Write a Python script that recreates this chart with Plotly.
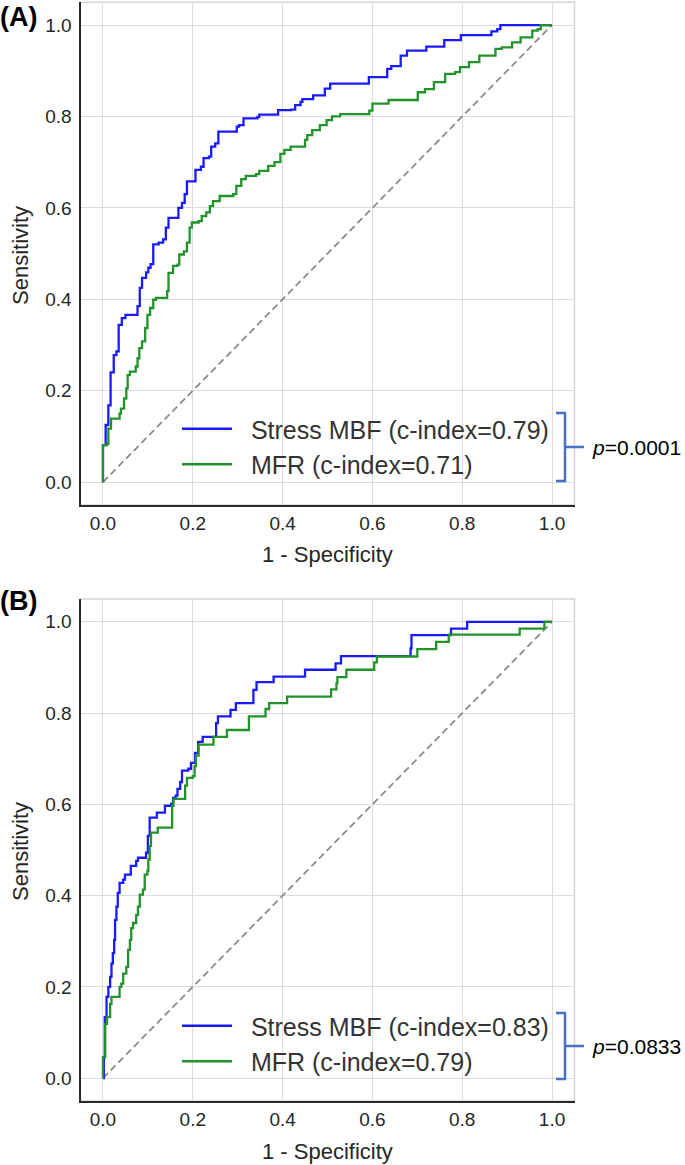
import plotly.graph_objects as go

# ---------------- data ----------------
tick_vals = [0.0, 0.2, 0.4, 0.6, 0.8, 1.0]
tick_text = ["0.0", "0.2", "0.4", "0.6", "0.8", "1.0"]

a_stress_fpr = [0, 0, 0.006, 0.012, 0.017, 0.024, 0.03, 0.035, 0.042, 0.05, 0.077, 0.082, 0.087, 0.096, 0.101,
                0.106, 0.112, 0.124, 0.134, 0.14, 0.146, 0.168, 0.176, 0.182, 0.187, 0.206, 0.218, 0.224, 0.236, 0.241,
                0.25, 0.257, 0.298, 0.303, 0.313, 0.344, 0.348, 0.39, 0.419, 0.428, 0.44, 0.444, 0.468, 0.494, 0.506,
                0.592, 0.633, 0.642, 0.663, 0.677, 0.72, 0.76, 0.797, 0.865, 0.878, 0.885, 1.0]
a_stress_tpr = [0, 0.081, 0.125, 0.168, 0.24, 0.278, 0.286, 0.344, 0.359, 0.366, 0.385, 0.425, 0.447, 0.459, 0.469,
                0.477, 0.52, 0.524, 0.531, 0.557, 0.578, 0.6, 0.611, 0.63, 0.658, 0.683, 0.69, 0.709, 0.712, 0.734,
                0.741, 0.767, 0.778, 0.781, 0.796, 0.799, 0.804, 0.814, 0.815, 0.825, 0.832, 0.838, 0.846, 0.861, 0.872,
                0.886, 0.904, 0.91, 0.933, 0.944, 0.953, 0.967, 0.978, 0.986, 0.991, 1.0, 1.0]

a_mfr_fpr = [0, 0, 0.009, 0.012, 0.018, 0.037, 0.04, 0.047, 0.052, 0.055, 0.06, 0.073, 0.077, 0.081, 0.087,
             0.094, 0.099, 0.105, 0.112, 0.118, 0.143, 0.146, 0.156, 0.166, 0.17, 0.18, 0.187, 0.193, 0.198, 0.213,
             0.22, 0.23, 0.238, 0.245, 0.26, 0.29, 0.297, 0.308, 0.318, 0.341, 0.348, 0.368, 0.382, 0.395, 0.404,
             0.418, 0.45, 0.455, 0.466, 0.483, 0.498, 0.51, 0.528, 0.593, 0.6, 0.636, 0.701, 0.717, 0.737, 0.762,
             0.784, 0.795, 0.815, 0.838, 0.874, 0.888, 0.911, 0.93, 0.956, 0.968, 0.975, 1.0]
a_mfr_tpr = [0, 0.081, 0.084, 0.117, 0.139, 0.15, 0.161, 0.183, 0.205, 0.234, 0.242, 0.253, 0.271, 0.293, 0.308,
             0.337, 0.366, 0.381, 0.399, 0.403, 0.418, 0.458, 0.473, 0.476, 0.498, 0.505, 0.524, 0.557, 0.568, 0.571,
             0.582, 0.59, 0.604, 0.615, 0.626, 0.63, 0.648, 0.663, 0.67, 0.674, 0.681, 0.692, 0.7, 0.718, 0.727,
             0.734, 0.749, 0.759, 0.77, 0.781, 0.792, 0.8, 0.805, 0.813, 0.828, 0.836, 0.853, 0.86, 0.875, 0.893,
             0.897, 0.908, 0.919, 0.933, 0.948, 0.951, 0.962, 0.973, 0.988, 0.991, 1.0, 1.0]

b_stress_fpr = [0, 0.002, 0.004, 0.008, 0.012, 0.016, 0.019, 0.022, 0.025, 0.027, 0.03, 0.033, 0.037, 0.045, 0.049,
                0.062, 0.074, 0.078, 0.096, 0.1, 0.104, 0.12, 0.138, 0.152, 0.156, 0.162, 0.166, 0.172, 0.176, 0.19,
                0.196, 0.205, 0.212, 0.222, 0.252, 0.256, 0.284, 0.296, 0.335, 0.342, 0.38, 0.45, 0.518, 0.53, 0.685,
                0.687, 0.775, 0.811, 1.0]
b_stress_tpr = [0, 0.046, 0.134, 0.178, 0.2, 0.222, 0.251, 0.274, 0.303, 0.347, 0.376, 0.406, 0.428, 0.435, 0.446,
                0.465, 0.476, 0.483, 0.494, 0.531, 0.571, 0.582, 0.597, 0.601, 0.614, 0.619, 0.634, 0.649, 0.674, 0.678,
                0.691, 0.713, 0.737, 0.748, 0.778, 0.793, 0.807, 0.822, 0.851, 0.868, 0.88, 0.895, 0.909, 0.925, 0.942,
                0.971, 0.985, 1.0, 1.0]

b_mfr_fpr = [0, 0, 0.005, 0.009, 0.016, 0.019, 0.037, 0.041, 0.045, 0.052, 0.056, 0.06, 0.063, 0.067, 0.074,
             0.078, 0.082, 0.089, 0.093, 0.099, 0.101, 0.104, 0.107, 0.122, 0.154, 0.157, 0.183, 0.187, 0.2, 0.204,
             0.207, 0.213, 0.246, 0.276, 0.325, 0.362, 0.37, 0.41, 0.508, 0.52, 0.522, 0.542, 0.604, 0.61, 0.7,
             0.742, 0.77, 0.928, 0.983, 1.0]
b_mfr_tpr = [0, 0.046, 0.119, 0.134, 0.163, 0.178, 0.2, 0.207, 0.229, 0.244, 0.281, 0.303, 0.329, 0.34, 0.358,
             0.376, 0.402, 0.413, 0.446, 0.454, 0.479, 0.509, 0.538, 0.549, 0.597, 0.612, 0.641, 0.658, 0.662, 0.684,
             0.707, 0.731, 0.748, 0.763, 0.793, 0.809, 0.822, 0.836, 0.852, 0.865, 0.879, 0.895, 0.911, 0.924, 0.94,
             0.956, 0.972, 0.985, 1.0, 1.0]

chance_x = [0, 1]
chance_y = [0, 1]

a_names = ["Stress MBF (c-index=0.79)", "MFR (c-index=0.71)"]
b_names = ["Stress MBF (c-index=0.83)", "MFR (c-index=0.79)"]
panel_labels = ["(A)", "(B)"]
p_texts = ["<i>p</i>=0.0001", "<i>p</i>=0.0833"]
x_title = "1 - Specificity"
y_title = "Sensitivity"

# ---------------- style ----------------
W, H = 685, 1165
BLUE = "#1a1aff"
GREEN = "#22922a"
FONT = "Liberation Sans, Arial, sans-serif"
TXT = "#262626"


def fx(p):
    return p / W


def fy(p):
    return 1 - p / H


x_dom = [fx(80.5), fx(574.5)]
ya_dom = [fy(505), fy(2.2)]
yb_dom = [fy(1101), fy(599)]

fig = go.Figure()

for xa, ya, s_fpr, s_tpr, m_fpr, m_tpr, names, leg in [
    ("x", "y", a_stress_fpr, a_stress_tpr, a_mfr_fpr, a_mfr_tpr, a_names, "legend"),
    ("x2", "y2", b_stress_fpr, b_stress_tpr, b_mfr_fpr, b_mfr_tpr, b_names, "legend2"),
]:
    fig.add_trace(go.Scatter(x=chance_x, y=chance_y, mode="lines", xaxis=xa, yaxis=ya,
                             line=dict(color="#8c8c8c", width=1.8, dash="7px,4px"),
                             showlegend=False, hoverinfo="skip"))
    fig.add_trace(go.Scatter(x=s_fpr, y=s_tpr, mode="lines", name="  " + names[0], xaxis=xa, yaxis=ya,
                             line=dict(color=BLUE, width=2.3, shape="hv"), legend=leg))
    fig.add_trace(go.Scatter(x=m_fpr, y=m_tpr, mode="lines", name="  " + names[1], xaxis=xa, yaxis=ya,
                             line=dict(color=GREEN, width=2.3, shape="hv"), legend=leg))

axis_common = dict(
    range=[-0.05, 1.05], tickvals=tick_vals, ticktext=tick_text,
    showgrid=True, gridcolor="#dcdcdc", gridwidth=1, zeroline=False,
    showline=True, linecolor="#2b2b2b", linewidth=2,
    tickfont=dict(family=FONT, size=19, color=TXT),
    fixedrange=True,
)
x_extra = dict(ticks="")
y_extra = dict(ticks="outside", ticklen=3, tickcolor="rgba(0,0,0,0)")

legend_common = dict(
    bgcolor="rgba(0,0,0,0)", borderwidth=0, xanchor="left", yanchor="top",
    font=dict(family=FONT, size=25, color="#333333"), itemwidth=50,
    tracegroupgap=0,
)

fig.update_layout(
    width=W, height=H, margin=dict(l=0, r=0, t=0, b=0),
    paper_bgcolor="white", plot_bgcolor="white",
    xaxis=dict(domain=x_dom, anchor="y", **axis_common, **x_extra),
    yaxis=dict(domain=ya_dom, anchor="x", **axis_common, **y_extra),
    xaxis2=dict(domain=x_dom, anchor="y2", **axis_common, **x_extra),
    yaxis2=dict(domain=yb_dom, anchor="x2", **axis_common, **y_extra),
    legend=dict(x=fx(177), y=fy(406), **legend_common),
    legend2=dict(x=fx(177), y=fy(1003), **legend_common),
    showlegend=True,
)

shapes = []
annotations = []
# light frame (top/right borders)
for xr, yr in [("x domain", "y domain"), ("x2 domain", "y2 domain")]:
    shapes.append(dict(type="rect", xref=xr, yref=yr, x0=0, x1=1, y0=0, y1=1,
                       line=dict(color="#d6d6d6", width=1.5), layer="below"))

# brackets + p values
for top, bot, mid, ptxt in [(413, 481, 447, p_texts[0]), (1013, 1079, 1046, p_texts[1])]:
    path = (f"M {fx(556)},{fy(top)} L {fx(565)},{fy(top)} L {fx(565)},{fy(bot)} L {fx(556)},{fy(bot)} "
            f"M {fx(565)},{fy(mid)} L {fx(584)},{fy(mid)}")
    shapes.append(dict(type="path", xref="paper", yref="paper", path=path,
                       line=dict(color="#4472c4", width=2.5)))
    annotations.append(dict(text=ptxt, xref="paper", yref="paper", x=fx(590), y=fy(mid),
                            xanchor="left", yanchor="middle", showarrow=False,
                            font=dict(family=FONT, size=21, color="black")))

# panel labels and axis titles
for lbl, ly, xt_y, yt_y in [(panel_labels[0], 17, 554, 256), (panel_labels[1], 601, 1151, 852)]:
    annotations.append(dict(text=f"<b>{lbl}</b>", xref="paper", yref="paper", x=fx(-2), y=fy(ly),
                            xanchor="left", yanchor="middle", showarrow=False,
                            font=dict(family=FONT, size=27, color="black")))
    annotations.append(dict(text=x_title, xref="paper", yref="paper", x=fx(327.5), y=fy(xt_y),
                            xanchor="center", yanchor="middle", showarrow=False,
                            font=dict(family=FONT, size=22, color=TXT)))
    annotations.append(dict(text=y_title, xref="paper", yref="paper", x=fx(20), y=fy(yt_y),
                            xanchor="center", yanchor="middle", showarrow=False, textangle=-90,
                            font=dict(family=FONT, size=22, color=TXT)))

fig.update_layout(shapes=shapes, annotations=annotations)

# remove the browser's default 8px body margin so the figure sits at the page origin
fig.write_html("out.html",
               config={"displayModeBar": False},
               post_script="document.body.style.margin='0';document.body.style.overflow='hidden';")
